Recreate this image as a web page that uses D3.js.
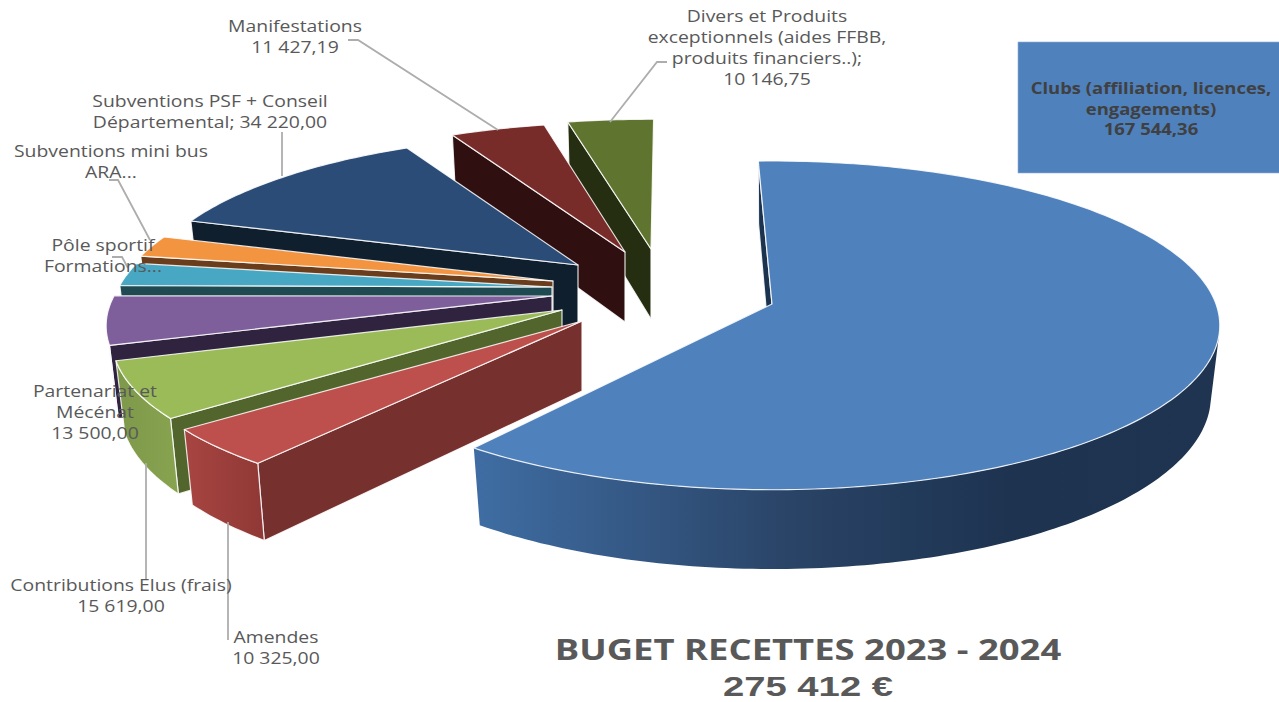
<!DOCTYPE html>
<html><head><meta charset="utf-8">
<script src="https://cdnjs.cloudflare.com/ajax/libs/d3/7.8.5/d3.min.js"></script>
<style>html,body{margin:0;padding:0;background:#fff;overflow:hidden}svg{display:block}text{font-family:"Open Sans",sans-serif}</style>
</head><body><svg id="c" width="1279" height="702"></svg>
<script>
// ---- data
const categories=["Clubs","Amendes","Contributions Elus","Partenariat","Pôle sportif","Mini bus","Subventions PSF","Manifestations","Divers"];
const values=[167544.36,10325,15619,13500,6500,6129.7,34220,11427.19,10146.75];
// ---- style
const topColors=["#4f81bd","#bd4f4c","#9bbb59","#7e5f9c","#48a8c3","#f39440","#2b4c77","#772c2a","#5f752f"];
const innerColors=["#1c3350","#76302e","#52652c","#30233f","#1f4a52","#6a3d1c","#101f2e","#2f0f10","#262e11"];
// ---- layout of each slice: explosion from pie centre (px), rim shape, small turn (deg)
const explodeX=[207,17,-3,-13,-13,-12,13,60,86];
const explodeY=[14,31,20,6,-3,-9,-25,-38,-41];
const rimRx=[444,449,442,438,433,431,429,433,442];
const rimRy=[161.6,154,154,154,154,154,154,154,154];
const rimK=[0.13,0.187,0.187,0.187,0.187,0.187,0.187,0.187,0.187];
const twist=[-1,0,0,0.5,1,1.5,1.5,1.5,1.4];
const cx=565,cy=290,depth=70,sx=0.98,sy=1.05;
const svg=d3.select("#c");
const rad=d=>d*Math.PI/180;
const pie=d3.pie().sort(null).startAngle(rad(-1)).endAngle(rad(359));
const arcs=pie(values);
const line=d3.line();
function unit(i,t){const u=Math.sin(t),v=Math.cos(t),w=1+rimK[i]*v;return [rimRx[i]*u/w,-rimRy[i]*v/w];}
function apex(i){return [cx+explodeX[i],cy+explodeY[i]];}
function topPt(i,t){const p=unit(i,t),a=apex(i);return [a[0]+p[0],a[1]+p[1]];}
function botPt(i,t){const p=unit(i,t),a=apex(i);return [a[0]+p[0]*sx,a[1]+p[1]*sy+depth];}
function samples(a,b){const n=Math.max(2,Math.ceil((b-a)/rad(1)));return d3.range(n+1).map(j=>a+(b-a)*j/n);}
const defs=svg.append("defs");
function grad(id,x1,x2,stops){const g=defs.append("linearGradient").attr("id",id).attr("gradientUnits","userSpaceOnUse").attr("x1",x1).attr("x2",x2).attr("y1",0).attr("y2",0);
 stops.forEach(s=>g.append("stop").attr("offset",s[0]).attr("stop-color",s[1]));}
grad("w0",475,1220,[[0,"#3f6da3"],[0.42,"#2a4467"],[0.72,"#1d3350"],[1,"#1f3450"]]);
grad("w1",190,265,[[0,"#a64441"],[1,"#8f3835"]]);
grad("w2",120,180,[[0,"#7e994a"],[1,"#88a450"]]);
grad("w3",105,130,[[0,"#cfc6dc"],[1,"#cfc6dc"]]);
const frontA=rad(100.8),frontB=rad(259.2);
const order=d3.range(values.length).reverse();
const g=svg.append("g");
const edge=(sel,o)=>sel.attr("stroke","#fff").attr("stroke-opacity",o).attr("stroke-width",1.2).attr("stroke-linejoin","round");
order.forEach(i=>{
 const a=arcs[i],s=a.startAngle+rad(twist[i]),e=a.endAngle+rad(twist[i]),ap=apex(i);
 edge(g.append("path").attr("d",line([topPt(i,s),ap,[ap[0],ap[1]+depth],botPt(i,s)])+"Z").attr("fill",innerColors[i]),0.85);
 const fa=Math.max(s,frontA),fb=Math.min(e,frontB);
 if(fb>fa){
  const ts=samples(fa,fb);
  edge(g.append("path").attr("d",line(ts.map(t=>topPt(i,t)).concat(ts.slice().reverse().map(t=>botPt(i,t))))+"Z").attr("fill",`url(#w${i})`),i===0?0:0.85);
 }
 edge(g.append("path").attr("d",line([ap].concat(samples(s,e).map(t=>topPt(i,t))))+"Z").attr("fill",topColors[i]),0.85);
});
// ---- label box
svg.append("rect").attr("x",1018).attr("y",42).attr("width",262).attr("height",131).attr("fill","#4f81bd").attr("stroke","#8fb0d8").attr("stroke-width",0.6);
// ---- leaders
const leaders=[[[348,40],[358,40],[498,130]],[[667,62],[657,62],[610,122]],[[282,132],[282,176]],[[109,180],[118,180],[150,240]],[[112,257],[122,257],[128,268]],[[146,463],[146,580]],[[228,522],[228,640]]];
svg.append("g").selectAll("path").data(leaders).join("path").attr("d",d=>line(d)).attr("fill","none").attr("stroke","#adadad").attr("stroke-width",1.8);
// ---- labels
function put(t,x,y,size,weight,fill,stretch,family){
 const n=svg.append("text").attr("x",x).attr("y",y).attr("text-anchor","middle").attr("font-size",size).attr("font-weight",weight).attr("fill",fill).text(t);
 if(family)n.style("font-family",family);
 n.attr("textLength",n.node().getComputedTextLength()*stretch).attr("lengthAdjust","spacingAndGlyphs");
}
const labelX=[295,767,210,111,103,95,121,276];
const labelY=[32,22,107,157,251,397,591,643];
const labelLines=[["Manifestations","11 427,19"],["Divers et Produits","exceptionnels (aides FFBB,","produits financiers..);","10 146,75"],["Subventions PSF + Conseil","Départemental; 34 220,00"],["Subventions mini bus","ARA..."],["Pôle sportif","Formations..."],["Partenariat et","Mécénat","13 500,00"],["Contributions Elus (frais)","15 619,00"],["Amendes","10 325,00"]];
labelLines.forEach((ls,i)=>ls.forEach((t,j)=>put(t,labelX[i],labelY[i]+j*21,15.5,400,"#595959",1.25)));
["Clubs (affiliation, licences,","engagements)","167 544,36"].forEach((t,j)=>put(t,1151,94+j*20.5,15.5,700,"#404040",1.19));
put("BUGET RECETTES 2023 - 2024",808,660,28,700,"#595959",1.3);
put("275 412 €",808,696,27.5,700,"#595959",1.39,"'Liberation Sans'");
</script></body></html>
